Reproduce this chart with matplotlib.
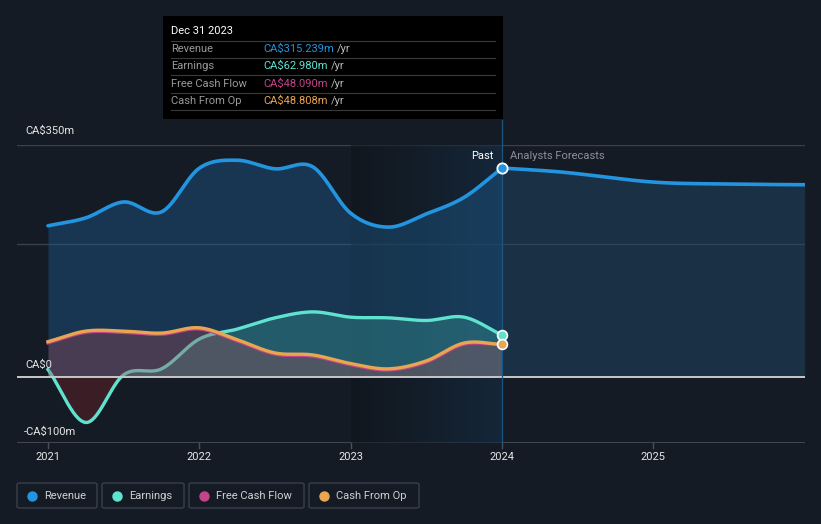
import numpy as np
import matplotlib
matplotlib.use("Agg")
import matplotlib.pyplot as plt
from matplotlib.patches import FancyBboxPatch, Rectangle
from matplotlib.lines import Line2D

# ---------------- data (CA$ millions) ----------------
past_t = [2021.0, 2021.25, 2021.5, 2021.75, 2022.0, 2022.25, 2022.5, 2022.75,
          2023.0, 2023.25, 2023.5, 2023.75, 2024.0]
revenue = [228, 240, 264, 249, 315, 327, 314, 317, 247, 226, 246, 271, 315.239]
earnings = [11, -69, 3, 12, 57, 72, 89, 98, 90, 89, 85, 90, 62.98]
cash_from_op = [53, 69, 69, 66, 74, 56, 36, 33, 20, 12, 24, 51, 48.808]
free_cash_flow = [51, 67, 67, 64, 72, 54, 34, 31, 18, 10, 22, 49, 48.09]
fc_t = [2024.0, 2024.4, 2025.0, 2025.5, 2026.0]
revenue_fc = [315.239, 309, 294, 291, 290]

x_ticks = [2021, 2022, 2023, 2024, 2025]
x_tick_labels = ["2021", "2022", "2023", "2024", "2025"]
legend_names = ["Revenue", "Earnings", "Free Cash Flow", "Cash From Op"]
tooltip_title = "Dec 31 2023"
tooltip_values = ["CA\\$315.239m", "CA\\$62.980m", "CA\\$48.090m", "CA\\$48.808m"]

C_REV = "#2394df"
C_EARN = "#5fe3cf"
C_FCF = "#c4438a"
C_CFO = "#e8a650"
BG = "#151b25"

def smooth(t, v, n=40):
    t = np.asarray(t, float); v = np.asarray(v, float)
    m = np.zeros_like(v)
    m[1:-1] = (v[2:] - v[:-2]) / (t[2:] - t[:-2])
    m[0] = (v[1] - v[0]) / (t[1] - t[0])
    m[-1] = (v[-1] - v[-2]) / (t[-1] - t[-2])
    xs, ys = [], []
    for i in range(len(t) - 1):
        h = t[i + 1] - t[i]
        s = np.linspace(0, 1, n, endpoint=(i == len(t) - 2))
        h00 = 2 * s**3 - 3 * s**2 + 1
        h10 = s**3 - 2 * s**2 + s
        h01 = -2 * s**3 + 3 * s**2
        h11 = s**3 - s**2
        xs.append(t[i] + s * h)
        ys.append(h00 * v[i] + h10 * h * m[i] + h01 * v[i + 1] + h11 * h * m[i + 1])
    return np.concatenate(xs), np.concatenate(ys)

W, H = 821, 524
fig = plt.figure(figsize=(W / 100, H / 100), dpi=100, facecolor=BG)
ax_l, ax_r, ax_t, ax_b = 17, 805, 145, 443
ax = fig.add_axes([ax_l / W, 1 - ax_b / H, (ax_r - ax_l) / W, (ax_b - ax_t) / H])
ax.set_facecolor(BG)
x0 = 2021 - 31 / 151.33
x1 = 2024 + 303 / 151.33
ax.set_xlim(x0, x1)
ax.set_ylim(-100, 350)
for s in ax.spines.values():
    s.set_visible(False)
ax.set_xticks([]); ax.set_yticks([])

# gridlines
for yv in [350, 200]:
    ax.axhline(yv, color="#3a404b", lw=1, zorder=1)
ax.axhline(-100, color="#4a505b", lw=1.2, zorder=1)

# highlight band 2023-2024
grad = np.zeros((2, 256, 4))
lin = np.linspace(0, 1, 256)
c0 = np.array([0.06, 0.08, 0.10]); c1 = np.array([0.08, 0.18, 0.27])
for k in range(3):
    grad[:, :, k] = c0[k] + (c1[k] - c0[k]) * lin
grad[:, :, 3] = 0.55 + 0.1 * lin
ax.imshow(grad, extent=[2023, 2024, -100, 350], aspect="auto", zorder=1.5, interpolation="bilinear")

# revenue
rx, ry = smooth(past_t, revenue)
fx, fy = smooth(fc_t, revenue_fc)
ax.fill_between(rx, 0, ry, color="#1d5d8f", alpha=0.42, lw=0, zorder=2)
ax.fill_between(fx, 0, fy, color="#1e4a6e", alpha=0.45, lw=0, zorder=2)
ax.plot(rx, ry, color=C_REV, lw=2.6, zorder=5, solid_capstyle="round")
ax.plot(fx, fy, color=C_REV, lw=2.6, zorder=5, solid_capstyle="round")

# earnings
ex, ey = smooth(past_t, earnings)
ax.fill_between(ex, 0, ey, where=ey >= 0, color="#3fb3a8", alpha=0.30, lw=0, zorder=3, interpolate=True)
ax.fill_between(ex, 0, ey, where=ey < 0, color="#6a2025", alpha=0.45, lw=0, zorder=3, interpolate=True)
ax.plot(ex, ey, color=C_EARN, lw=2.4, zorder=4)

# free cash flow & cash from op
qx, qy = smooth(past_t, free_cash_flow)
cx, cy = smooth(past_t, cash_from_op)
ax.fill_between(cx, 0, cy, color="#a04a55", alpha=0.35, lw=0, zorder=4.2)
ax.plot(qx, qy, color=C_FCF, lw=2.2, zorder=4.4)
ax.plot(cx, cy, color=C_CFO, lw=2.4, zorder=4.5)

# zero line
ax.axhline(0, color="#c8c8c8", lw=1.4, zorder=6)

# vertical divider at 2024
ax.plot([2024, 2024], [-100, 350 + 25 / 0.662], color="#1c5580", lw=0.9, zorder=6, clip_on=False)

# end markers
ax.scatter([2024], [revenue[-1]], s=55, color=C_REV, edgecolor="white", lw=1.3, zorder=8)
ax.scatter([2024], [earnings[-1]], s=50, color=C_EARN, edgecolor="white", lw=1.2, zorder=8)
ax.scatter([2024], [cash_from_op[-1]], s=50, color=C_CFO, edgecolor="white", lw=1.2, zorder=8)

# x ticks
for xv, lab in zip(x_ticks, x_tick_labels):
    ax.plot([xv, xv], [-100, -100 - 5 / 0.662], color="#4a505b", lw=1, clip_on=False)
    ax.text(xv, -100 - 14 / 0.662, lab, color="#e6e6e6", fontsize=8, ha="center", va="center",
            family="Roboto")

def px(x, y):
    return x / W, 1 - y / H

# y labels
fig.text(*px(25, 131), "CA\\$350m", color="#e6e6e6", fontsize=8, ha="left", va="center", family="Roboto")
fig.text(*px(25, 365), "CA\\$0", color="#e6e6e6", fontsize=8, ha="left", va="center", family="Roboto")
fig.text(*px(24, 432), "-CA\\$100m", color="#e6e6e6", fontsize=8, ha="left", va="center", family="Roboto")

fig.text(*px(493, 156), "Past", color="#ffffff", fontsize=8, ha="right", va="center", family="Roboto")
fig.text(*px(510, 156), "Analysts Forecasts", color="#8a8f98", fontsize=8, ha="left", va="center", family="Roboto")

# tooltip
tb = Rectangle(px(163, 119), (503 - 163) / W, (119 - 16) / H, transform=fig.transFigure,
               facecolor="#000000", edgecolor="none", zorder=10)
fig.patches.append(tb)
fig.text(*px(171, 31), tooltip_title, color="#ffffff", fontsize=8, ha="left", va="center",
         family="Roboto", zorder=11)
for yl in [41, 58, 75, 93, 110]:
    fig.lines.append(Line2D([171 / W, 495 / W], [1 - yl / H, 1 - yl / H], transform=fig.transFigure,
                            color="#3a3a3a", lw=0.8, zorder=11))
row_y = [49, 66, 84, 101]
row_c = [C_REV, C_EARN, C_FCF, C_CFO]
for name, val, yy, col in zip(legend_names, tooltip_values, row_y, row_c):
    fig.text(*px(171, yy), name, color="#9a9a9a", fontsize=8, ha="left", va="center", family="Roboto", zorder=11)
    t = fig.text(*px(263, yy), val, color=col, fontsize=8, ha="left", va="center", family="Roboto", zorder=11)
    fig.canvas.draw()
    bb = t.get_window_extent()
    fig.text(bb.x1 / W + 3 / W, 1 - yy / H, "/yr", color="#bbbbbb", fontsize=8, ha="left", va="center",
             family="Roboto", zorder=11)

# legend
boxes = [(17, 97), (102, 184), (189, 304), (309, 419)]
for (bx0, bx1), name, col in zip(boxes, legend_names, row_c):
    p = FancyBboxPatch(px(bx0, 508), (bx1 - bx0) / W, 25 / H, boxstyle="round,pad=0,rounding_size=0.003",
                       transform=fig.transFigure, facecolor="none", edgecolor="#3a404b", lw=1)
    fig.patches.append(p)
    fig.lines.append(Line2D([(bx0 + 15) / W], [1 - 496 / H], marker="o", markersize=6.5, color=col,
                            transform=fig.transFigure, lw=0))
    fig.text((bx0 + 27) / W, 1 - 496 / H, name, color="#d0d0d0", fontsize=8, ha="left", va="center",
             family="Roboto")

fig.savefig("out.png", dpi=100, facecolor=BG)
